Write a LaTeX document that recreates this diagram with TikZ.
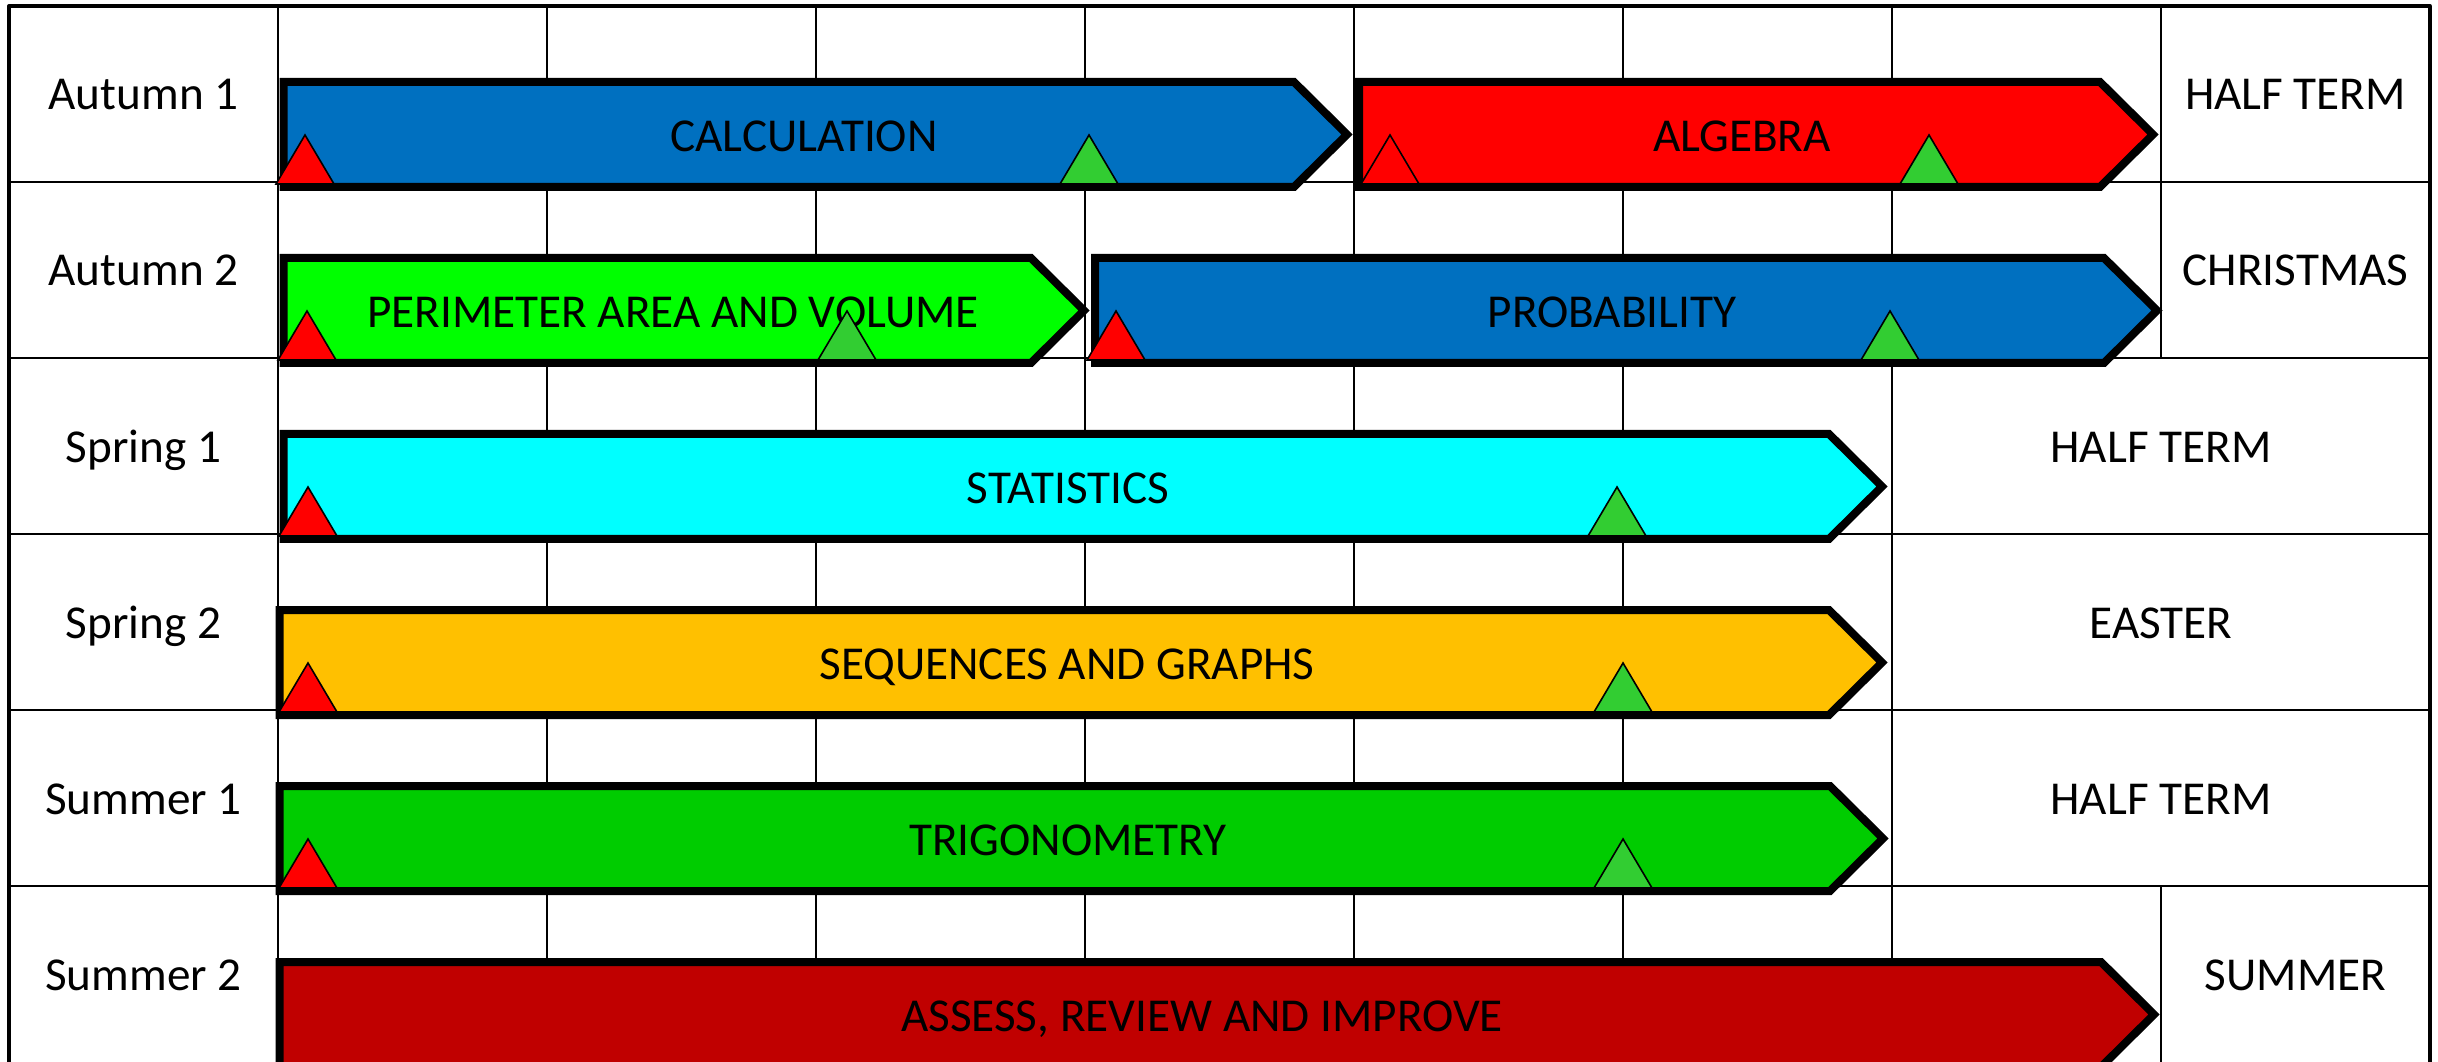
\documentclass[tikz,border=0pt]{standalone}
\usepackage{fontspec}
\setmainfont{Carlito}

\begin{document}
\begin{tikzpicture}[x=1pt,y=1pt,
  font=\fontsize{11.8}{14}\selectfont,
  gridrule/.style={draw=drawColor,line width=0.5pt,line join=round},
  framerule/.style={draw=drawColor,line width=0.8pt,line join=round},
  topicbar/.style={draw=drawColor,line width=2pt,line join=miter},
  milestone/.style={draw=drawColor,line width=0.4pt,line join=miter},
  celltext/.style={text=drawColor,anchor=base,inner sep=0pt,outer sep=0pt}]
\definecolor{fillColor}{RGB}{255,255,255}
\definecolor{drawColor}{RGB}{0,0,0}
\path[use as bounding box,fill=fillColor] (0,0) rectangle (609.50,265.25);

% grid of the table
\path[gridrule] ( 69.50,263.75) -- ( 69.50, -0.75);
\path[gridrule] (136.75,263.75) -- (136.75, -0.75);
\path[gridrule] (204.00,263.75) -- (204.00, -0.75);
\path[gridrule] (271.25,263.75) -- (271.25, -0.75);
\path[gridrule] (338.50,263.75) -- (338.50, -0.75);
\path[gridrule] (405.75,263.75) -- (405.75, -0.75);
\path[gridrule] (473.00,263.75) -- (473.00, -0.75);
\path[gridrule] (540.25,263.75) -- (540.25,175.75);
\path[gridrule] (540.25, 43.75) -- (540.25, -0.75);

\path[gridrule] (  2.25,219.75) -- (607.50,219.75);
\path[gridrule] (  2.25,175.75) -- (607.50,175.75);
\path[gridrule] (  2.25,131.75) -- (607.50,131.75);
\path[gridrule] (  2.25, 87.75) -- (607.50, 87.75);
\path[gridrule] (  2.25, 43.75) -- (607.50, 43.75);

\path[framerule] (  2.25, -0.75) rectangle (607.50,263.75);

% half terms
\node[celltext] (autumn1) at ( 35.88,237.75) {Autumn 1};
\node[celltext] (autumn2) at ( 35.88,193.75) {Autumn 2};
\node[celltext] (spring1) at ( 35.88,149.75) {Spring 1};
\node[celltext] (spring2) at ( 35.88,105.75) {Spring 2};
\node[celltext] (summer1) at ( 35.88, 61.75) {Summer 1};
\node[celltext] (summer2) at ( 35.88, 17.75) {Summer 2};

% holidays
\node[celltext] (hol1) at (573.88,237.75) {HALF TERM};
\node[celltext] (hol2) at (573.88,193.75) {CHRISTMAS};
\node[celltext] (hol3) at (540.25,149.75) {HALF TERM};
\node[celltext] (hol4) at (540.25,105.75) {EASTER};
\node[celltext] (hol5) at (540.25, 61.75) {HALF TERM};
\node[celltext] (hol6) at (573.88, 17.75) {SUMMER};

% units
\definecolor{fillColor}{RGB}{0,112,192}
\path[topicbar,fill=fillColor] ( 70.90,218.50) -- ( 70.90,244.75) -- (323.50,244.75) --
	(336.75,231.63) -- (323.50,218.50) -- cycle;
\node[celltext] (calc) at (201.00,227.38) {CALCULATION};

\definecolor{fillColor}{RGB}{255,0,0}
\path[topicbar,fill=fillColor] (339.75,218.50) -- (339.75,244.75) -- (525.00,244.75) --
	(538.25,231.63) -- (525.00,218.50) -- cycle;
\node[celltext] (algebra) at (435.50,227.38) {ALGEBRA};

\definecolor{fillColor}{RGB}{0,255,0}
\path[topicbar,fill=fillColor] ( 70.90,174.50) -- ( 70.90,200.75) -- (257.75,200.75) --
	(271.00,187.63) -- (257.75,174.50) -- cycle;
\node[celltext] (perim) at (168.25,183.38) {PERIMETER AREA AND VOLUME};

\definecolor{fillColor}{RGB}{0,112,192}
\path[topicbar,fill=fillColor] (273.75,174.50) -- (273.75,200.75) -- (526.00,200.75) --
	(539.25,187.63) -- (526.00,174.50) -- cycle;
\node[celltext] (prob) at (403.00,183.38) {PROBABILITY};

\definecolor{fillColor}{RGB}{0,255,255}
\path[topicbar,fill=fillColor] ( 70.90,130.50) -- ( 70.90,156.75) -- (457.25,156.75) --
	(470.50,143.63) -- (457.25,130.50) -- cycle;
\node[celltext] (stats) at (267.00,139.38) {STATISTICS};

\definecolor{fillColor}{RGB}{255,192,0}
\path[topicbar,fill=fillColor] ( 69.90, 86.50) -- ( 69.90,112.75) -- (457.25,112.75) --
	(470.50, 99.63) -- (457.25, 86.50) -- cycle;
\node[celltext] (seq) at (266.75, 95.38) {SEQUENCES AND GRAPHS};

\definecolor{fillColor}{RGB}{0,204,0}
\path[topicbar,fill=fillColor] ( 69.90, 42.50) -- ( 69.90, 68.75) -- (457.50, 68.75) --
	(470.75, 55.63) -- (457.50, 42.50) -- cycle;
\node[celltext] (trig) at (267.00, 51.38) {TRIGONOMETRY};

\definecolor{fillColor}{RGB}{192,0,0}
\path[topicbar,fill=fillColor] ( 69.90, -1.50) -- ( 69.90, 24.75) -- (525.25, 24.75) --
	(538.50, 11.63) -- (525.25, -1.50) -- cycle;
\node[celltext] (review) at (300.50,  7.38) {ASSESS, REVIEW AND IMPROVE};

% start markers
\definecolor{fillColor}{RGB}{255,0,0}
\path[milestone,fill=fillColor] ( 69.00,219.25) -- ( 76.25,231.50) -- ( 83.50,219.25) -- cycle;
\path[milestone,fill=fillColor] (340.25,219.25) -- (347.50,231.50) -- (354.75,219.25) -- cycle;
\path[milestone,fill=fillColor] ( 69.50,175.25) -- ( 76.75,187.50) -- ( 84.00,175.25) -- cycle;
\path[milestone,fill=fillColor] (271.75,175.25) -- (279.00,187.50) -- (286.25,175.25) -- cycle;
\path[milestone,fill=fillColor] ( 69.75,131.25) -- ( 77.00,143.50) -- ( 84.25,131.25) -- cycle;
\path[milestone,fill=fillColor] ( 69.75, 87.25) -- ( 77.00, 99.50) -- ( 84.25, 87.25) -- cycle;
\path[milestone,fill=fillColor] ( 69.75, 43.25) -- ( 77.00, 55.50) -- ( 84.25, 43.25) -- cycle;

% end markers
\definecolor{fillColor}{RGB}{50,205,50}
\path[milestone,fill=fillColor] (265.00,219.25) -- (272.25,231.50) -- (279.50,219.25) -- cycle;
\path[milestone,fill=fillColor] (475.00,219.25) -- (482.25,231.50) -- (489.50,219.25) -- cycle;
\path[milestone,fill=fillColor] (204.50,175.25) -- (211.75,187.50) -- (219.00,175.25) -- cycle;
\path[milestone,fill=fillColor] (465.25,175.25) -- (472.50,187.50) -- (479.75,175.25) -- cycle;
\path[milestone,fill=fillColor] (397.00,131.25) -- (404.25,143.50) -- (411.50,131.25) -- cycle;
\path[milestone,fill=fillColor] (398.50, 87.25) -- (405.75, 99.50) -- (413.00, 87.25) -- cycle;
\path[milestone,fill=fillColor] (398.50, 43.25) -- (405.75, 55.50) -- (413.00, 43.25) -- cycle;
\end{tikzpicture}
\end{document}
